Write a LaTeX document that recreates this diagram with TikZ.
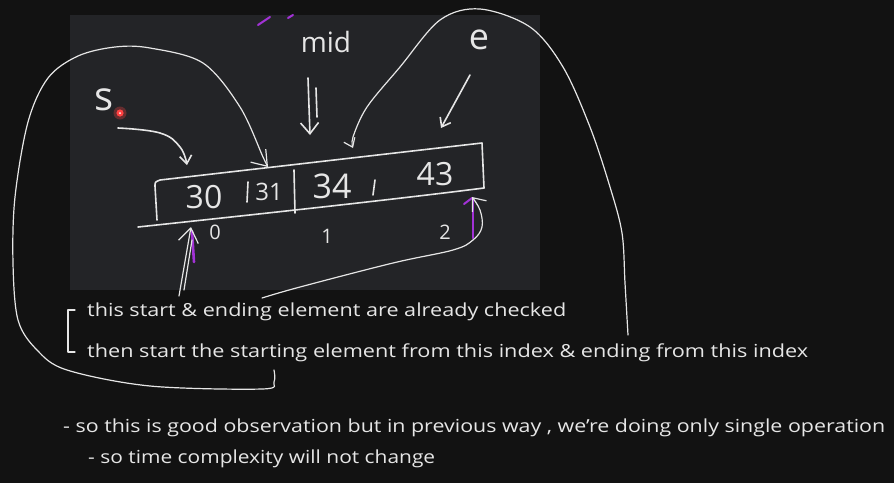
\documentclass[tikz,border=0pt]{standalone}
\usepackage{fontspec}
\usepackage{graphicx}
\setmainfont{Open Sans}
\usetikzlibrary{arrows.meta}
\definecolor{bgout}{HTML}{121212}
\definecolor{bgin}{HTML}{232427}
\definecolor{ink}{HTML}{E6E6E6}
\definecolor{purp}{HTML}{A232D6}
\definecolor{reddot}{HTML}{FF4242}
\newcommand\wline[2]{\resizebox{#1}{\height}{#2}}
\begin{document}
\begin{tikzpicture}[x=1pt,y=-1pt,
  stroke/.style={draw=ink, line width=1.2pt, line cap=round, line join=round},
  thick stroke/.style={draw=ink, line width=1.6pt, line cap=round, line join=round},
  purplestroke/.style={draw=purp, line width=2.6pt, line cap=round},
  barbbig/.style={-{Straight Barb[length=14pt,width=20pt]}},
  barbmid/.style={-{Straight Barb[length=11pt,width=18pt]}},
  barbsmall/.style={-{Straight Barb[length=8pt,width=12pt]}},
  note/.style={text=ink, inner sep=0pt, anchor=base west, font=\fontsize{18}{20}\selectfont},
  hand/.style={text=ink, inner sep=0pt}]
\fill[bgout] (0,0) rectangle (894,483);
\useasboundingbox (0,0) rectangle (894,483);
\fill[bgin] (70,15) rectangle (540,290);

% purple marks at top
\draw[purplestroke, line width=2pt] (258,25) -- (270,17);
\draw[purplestroke, line width=2pt] (288,18) -- (293,15);

% labels
\node[hand, font=\fontsize{28}{30}\selectfont] (mid) at (326,42) {mid};
\node[hand, font=\fontsize{36}{38}\selectfont] (e) at (479,40) {e};
\node[hand, font=\fontsize{40}{42}\selectfont] (s) at (104,100) {s};

% red pointer dot
\fill[reddot, opacity=0.3] (120,113) circle (6.5);
\fill[reddot] (120,113) circle (3.6);
\fill[white] (120,113) circle (1);

% array box
\coordinate (tl) at (160,180);
\coordinate (tr) at (482,143);
\coordinate (br) at (484,188);
\coordinate (bl) at (157,220);
\coordinate (bext) at (138,227);
\draw[thick stroke] (bl) -- (155,186) .. controls (155,182) .. (tl) -- (tr) -- (br);
\draw[thick stroke] (br) .. controls (390,200) and (250,215) .. (bext);
\draw[thick stroke] (248,182) -- (247,202);
\draw[thick stroke] (294,170) -- (295,213);
\draw[thick stroke] (375,180) -- (373,195);

\node[hand, font=\fontsize{32}{34}\selectfont] (v30) at (204,197) {30};
\node[hand, font=\fontsize{24}{26}\selectfont] (v31) at (269,192) {31};
\node[hand, font=\fontsize{34}{36}\selectfont] (v34) at (332,186) {34};
\node[hand, font=\fontsize{32}{34}\selectfont] (v43) at (435,174) {43};
\node[hand, font=\fontsize{20}{22}\selectfont] (i0) at (215,232) {0};
\node[hand, font=\fontsize{20}{22}\selectfont] (i1) at (327,236) {1};
\node[hand, font=\fontsize{20}{22}\selectfont] (i2) at (445,232) {2};

% s arrow
\draw[thick stroke, barbsmall] plot[smooth, tension=0.7] coordinates {(118,128) (160,133) (180,147) (187,165)};

% mid arrow
\draw[thick stroke, barbmid] (308,78) -- (310,135);
\draw[thick stroke] (316,88) -- (317,117);

% e arrow
\draw[thick stroke, barbsmall] (470,75) -- (441,128);

% big left loop
\draw[stroke, barbbig] plot[smooth, tension=0.55] coordinates {(274,370) (274,382) (262,389) (150,386) (67,370) (37,350) (18,320) (13,263) (15,197) (28,122) (48,78) (78,56) (115,47) (150,48) (203,63) (240,107) (263,157) (268,167)};

% big right loop
\draw[stroke, barbsmall] plot[smooth, tension=0.55] coordinates {(628,335) (625,283) (622,233) (610,187) (590,127) (563,67) (530,27) (480,9) (440,20) (400,67) (367,107) (353,137) (353,148)};

% left up arrow
\draw[purplestroke] (192,231) -- (194,262);
\draw[stroke, barbbig] (179,296) -- (191,227);
\draw[stroke] (184,290) -- (192,240);

% right up arrow
\draw[purplestroke] (473,199) -- (473,238);
\draw[purplestroke, line width=2pt] (464,204) -- (472,198);
\draw[stroke, barbmid] plot[smooth, tension=0.6] coordinates {(262,298) (300,287) (393,263) (453,250) (473,240) (482,227) (480,210) (472,197)};

% bracket
\draw[stroke] (75,310) -- (68,310) -- (68,352) -- (75,352);

% notes
\node[note] (t1) at (87,316) {\wline{479pt}{this start \& ending element are already checked}};
\node[note] (t2) at (87,357) {\wline{721pt}{then start the starting element from this index \& ending from this index}};
\node[note] (t3) at (63,432) {\wline{822pt}{- so this is good observation but in previous way , we're doing only single operation}};
\node[note] (t4) at (88,463) {\wline{347pt}{- so time complexity will not change}};
\end{tikzpicture}
\end{document}
